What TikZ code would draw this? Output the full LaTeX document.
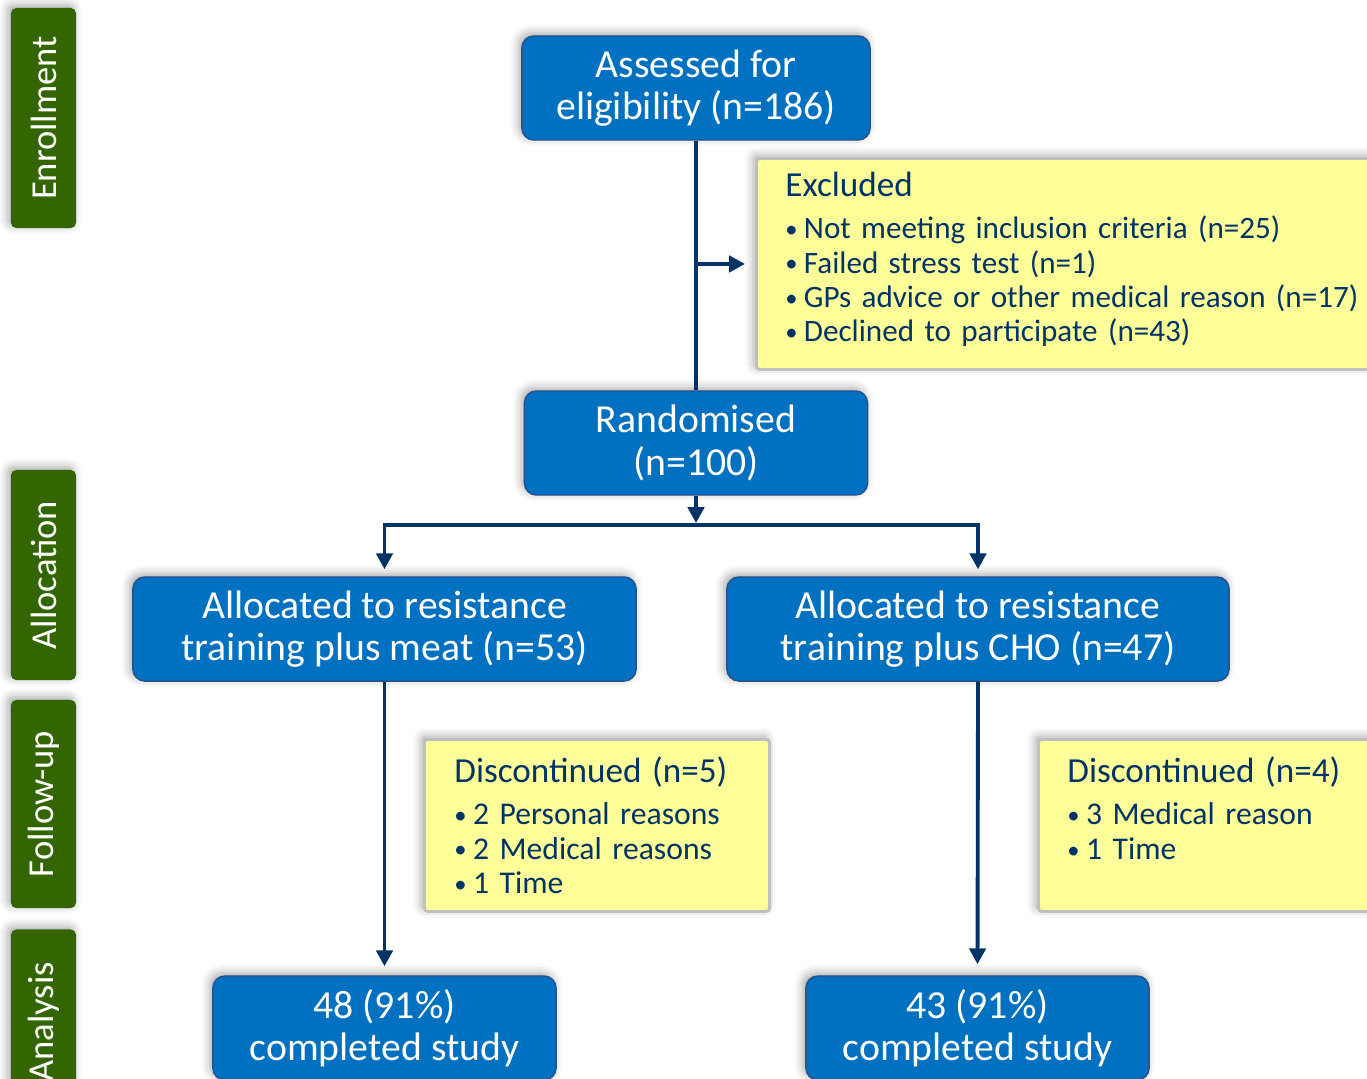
\documentclass[tikz,border=0pt]{standalone}
\usepackage{fontspec}
\setmainfont{Carlito}
\usepackage{tikz}
\usetikzlibrary{arrows.meta,positioning,calc,shadows.blur}
\definecolor{BoxBlue}{RGB}{0,112,192}
\definecolor{EdgeBlue}{RGB}{40,80,140}
\definecolor{NavyLine}{RGB}{0,51,102}
\definecolor{NoteYellow}{RGB}{255,255,153}
\definecolor{NoteGray}{RGB}{191,191,191}
\definecolor{PhaseGreen}{RGB}{51,102,0}
\tikzset{
  softshadow/.style={blur shadow={shadow xshift=-0.8pt,shadow yshift=0.8pt,shadow blur radius=2.5pt,shadow opacity=35}},
  bluebox/.style={draw=EdgeBlue,fill=BoxBlue,text=white,rounded corners=3.4pt,line width=0.4pt,minimum height=1.04cm,align=center,font=\fontsize{11.3}{12}\selectfont,softshadow},
  notebox/.style={draw=NoteGray,fill=NoteYellow,text=NavyLine,line width=0.8pt,rounded corners=1pt,anchor=north west,align=left,font=\fontsize{9}{9.8}\selectfont,softshadow},
  phase/.style={fill=PhaseGreen,text=white,rounded corners=1.5pt,rotate=90,minimum height=0.65cm,font=\fontsize{10.4}{12}\selectfont,softshadow},
  flow/.style={draw=NavyLine,line width=1.1pt,-{Triangle[length=4.5pt,width=4.6pt]}},
  link/.style={draw=NavyLine,line width=1.1pt}
}
\newcommand{\bitem}{{\fontsize{7}{7}\selectfont\raisebox{0.4pt}{\textbullet}}\hspace{0.2em}}
\newcommand{\nhead}[1]{{\fontsize{10}{12}\selectfont #1}\\[2.2pt]}

\begin{document}
\begin{tikzpicture}[x=0.01cm,y=-0.01cm]
\useasboundingbox (0,0) rectangle (1367,1078);
\clip (0,0) rectangle (1367,1078);

% phase labels
\node[phase,minimum width=2.2cm] (enrol) at (43.5,118) {Enrollment};
\node[phase,minimum width=2.1cm] (alloc) at (43.5,575) {Allocation};
\node[phase,minimum width=2.08cm] (follow) at (43.5,804) {Follow-up};
\node[phase,minimum width=1.85cm] (analys) at (43.5,1022) {Analysis};

% main boxes
\node[bluebox,minimum width=3.48cm] (assess) at (696,88) {Assessed for\\eligibility (n=186)};
\node[bluebox,minimum width=3.43cm] (rand) at (696,443) {Randomised\\(n=100)};
\node[bluebox,minimum width=5.03cm] (meat) at (384.5,629) {Allocated to resistance\\training plus meat (n=53)};
\node[bluebox,minimum width=5.02cm] (cho) at (978,629) {Allocated to resistance\\training plus CHO (n=47)};
\node[bluebox,minimum width=3.43cm] (done1) at (384.5,1028) {48 (91\%)\\completed study};
\node[bluebox,minimum width=3.43cm] (done2) at (977.5,1028) {43 (91\%)\\completed study};

% side notes
\node[notebox,font=\fontsize{8.85}{9.8}\selectfont,minimum height=2.11cm,inner xsep=0.29cm,inner ysep=0pt,text width=6.1cm] (excl) at (755,157)
  {\nhead{Excluded}\bitem Not meeting inclusion criteria (n=25)\\\bitem Failed stress test (n=1)\\\bitem GPs advice or other medical reason (n=17)\\\bitem Declined to participate (n=43)\\[-5.8pt]\mbox{}};
\node[notebox,minimum height=1.72cm,inner xsep=0.3cm,text width=2.85cm] (disc1) at (423,738)
  {\nhead{Discontinued (n=5)}\bitem 2 Personal reasons\\\bitem 2 Medical reasons\\\bitem 1 Time};
\node[notebox,minimum height=1.72cm,inner xsep=0.29cm,text width=2.92cm] (disc2) at (1037,738)
  {\nhead{Discontinued (n=4)}\bitem 3 Medical reason\\\bitem 1 Time\\\mbox{}};

% connectors
\coordinate (split) at ($(rand.south)+(0,29)$);
\draw[link] (assess.south) -- (rand.north);
\draw[flow,shorten >=0.1cm] (assess.south |- excl.west) -- (excl.west);
\draw[flow,shorten >=0.5pt] (rand.south) -- (split);
\draw[flow,shorten >=0.07cm] (split) -| (meat.north);
\draw[flow,shorten >=0.07cm] (split) -| (cho.north);
\draw[flow,shorten >=0.09cm] (meat.south) -- (done1.north);
\draw[flow,shorten >=0.11cm] (cho.south) -- (done2.north);
\end{tikzpicture}
\end{document}
